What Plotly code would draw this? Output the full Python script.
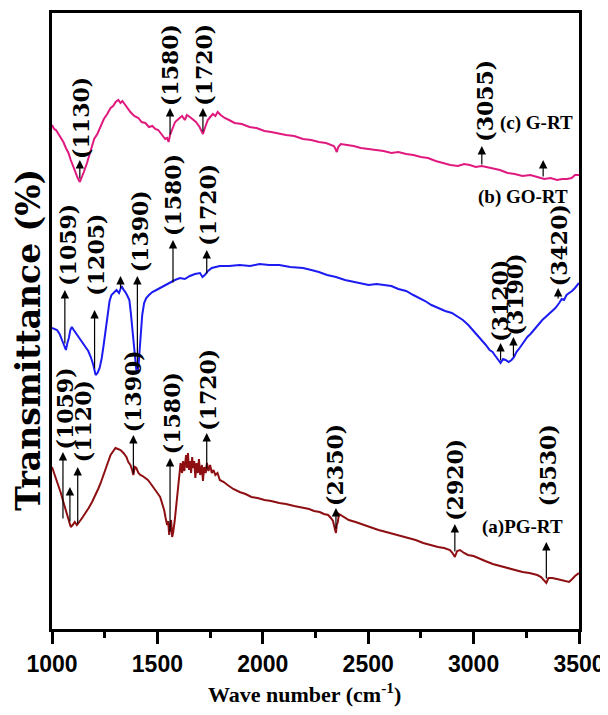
import plotly.graph_objects as go

# ---------------- data (wavenumber in cm^-1, transmittance in arbitrary units) ----------------
g_wn = [1000, 1010, 1019, 1030, 1042, 1054, 1066, 1078, 1089, 1101, 1113, 1122, 1132, 1141, 1151,
        1166, 1184, 1200, 1215, 1231, 1246, 1262, 1278, 1290, 1302, 1315, 1325, 1334, 1344, 1358,
        1372, 1390, 1410, 1425, 1443, 1460, 1476, 1490, 1504, 1515, 1527, 1537, 1546, 1553, 1560,
        1572, 1584, 1600, 1617, 1630, 1640, 1654, 1668, 1683, 1700, 1710, 1716, 1727, 1739, 1751,
        1763, 1775, 1786, 1800, 1819, 1840, 1866, 1900, 1937, 1970, 2008, 2040, 2078, 2110, 2149,
        2191, 2230, 2266, 2300, 2337, 2345, 2351, 2358, 2370, 2400, 2431, 2465, 2502, 2540, 2573,
        2610, 2643, 2680, 2714, 2750, 2784, 2820, 2855, 2890, 2926, 2955, 2982, 3010, 3039, 3065,
        3091, 3125, 3161, 3195, 3232, 3270, 3302, 3335, 3365, 3396, 3420, 3443, 3465, 3481, 3500]
g_t = [508, 504, 503, 499, 496, 491, 485, 480, 473, 466, 461, 455, 451, 455, 461,
       470, 483, 494, 499, 506, 514, 519, 525, 527, 531, 533, 530, 532, 529, 524,
       521, 517, 515, 511, 510, 506, 507, 504, 503, 500, 497, 494, 495, 491, 498,
       504, 511, 514, 517, 513, 518, 516, 514, 511, 506, 501, 499, 506, 513, 516,
       519, 517, 521, 518, 515, 513, 510, 509, 506, 505, 502, 501, 499, 498, 497,
       494, 493, 491, 490, 487, 484, 481, 486, 489, 488, 487, 485, 484, 483, 482,
       480, 481, 479, 478, 476, 475, 472, 470, 468, 467, 469, 468, 466, 467, 466,
       465, 463, 460, 459, 457, 458, 456, 454, 455, 453, 454, 454, 455, 458, 458]

go_wn = [1000, 1012, 1024, 1036, 1047, 1057, 1066, 1073, 1080, 1087, 1094, 1103, 1113, 1125, 1137,
         1148, 1160, 1172, 1184, 1196, 1207, 1216, 1226, 1236, 1245, 1255, 1264, 1273, 1282, 1294,
         1306, 1318, 1330, 1340, 1348, 1358, 1367, 1374, 1381, 1388, 1395, 1400, 1405, 1410, 1414,
         1421, 1428, 1437, 1447, 1460, 1476, 1495, 1513, 1537, 1560, 1583, 1607, 1630, 1654, 1678,
         1702, 1714, 1725, 1740, 1758, 1777, 1796, 1840, 1890, 1940, 1984, 2030, 2078, 2130, 2191,
         2230, 2266, 2305, 2347, 2390, 2431, 2465, 2502, 2540, 2573, 2610, 2643, 2680, 2714, 2745,
         2770, 2800, 2831, 2865, 2897, 2925, 2949, 2975, 2996, 3018, 3039, 3058, 3076, 3090, 3100,
         3114, 3128, 3140, 3152, 3166, 3180, 3192, 3203, 3215, 3227, 3241, 3255, 3270, 3288, 3306,
         3326, 3346, 3368, 3388, 3406, 3418, 3429, 3441, 3453, 3467, 3481, 3500]
go_t = [305, 304, 303, 299, 293, 287, 283, 290, 295, 303, 306, 303, 300, 297, 293,
        290, 286, 282, 276, 268, 258, 260, 265, 275, 288, 305, 321, 332, 338, 341,
        343, 340, 347, 343, 341, 337, 333, 320, 303, 285, 268, 263, 261, 266, 278,
        300, 318, 330, 335, 338, 341, 343, 345, 348, 351, 353, 355, 354, 357, 359,
        360, 356, 358, 362, 365, 366, 367, 367, 368, 367, 369, 368, 368, 366, 365,
        363, 361, 358, 356, 353, 351, 350, 348, 349, 348, 347, 344, 342, 338, 335,
        332, 328, 325, 322, 320, 316, 313, 308, 303, 298, 293, 288, 283, 281, 278,
        274, 270, 274, 273, 271, 273, 276, 281, 284, 288, 292, 296, 299, 303, 308,
        313, 317, 321, 325, 330, 334, 333, 338, 340, 342, 345, 350]

pg_wn = [1000, 1010, 1019, 1030, 1042, 1054, 1066, 1078, 1089, 1098, 1108, 1118, 1127, 1136, 1146,
         1160, 1174, 1190, 1207, 1219, 1231, 1242, 1254, 1266, 1278, 1290, 1301, 1313, 1325, 1339,
         1353, 1362, 1372, 1380, 1386, 1393, 1400, 1410, 1419, 1430, 1443, 1455, 1466, 1478, 1490,
         1500, 1513, 1522, 1532, 1539, 1546, 1551, 1556, 1560, 1565, 1570, 1575, 1582, 1589, 1596,
         1603, 1610, 1617, 1622, 1628, 1636, 1641, 1645, 1650, 1654, 1660, 1665, 1669, 1675, 1680,
         1686, 1692, 1697, 1703, 1711, 1716, 1722, 1729, 1735, 1742, 1750, 1758, 1766, 1775, 1785,
         1796, 1815, 1833, 1860, 1890, 1918, 1946, 1975, 2008, 2040, 2078, 2110, 2149, 2191, 2220,
         2243, 2270, 2290, 2310, 2323, 2333, 2342, 2347, 2351, 2356, 2361, 2385, 2408, 2440, 2478,
         2510, 2549, 2585, 2620, 2655, 2690, 2725, 2761, 2795, 2831, 2860, 2888, 2900, 2911, 2922,
         2935, 2955, 2973, 3000, 3020, 3055, 3091, 3125, 3161, 3195, 3232, 3265, 3302, 3320, 3335,
         3345, 3355, 3373, 3395, 3420, 3440, 3453, 3468, 3481, 3500]
pg_t = [166, 160, 153, 146, 140, 131, 123, 115, 106, 108, 111, 108, 110, 113, 116,
        120, 125, 131, 138, 144, 150, 156, 163, 171, 178, 182, 185, 184, 183, 180,
        176, 171, 168, 163, 158, 166, 165, 160, 158, 157, 155, 153, 150, 146, 143,
        140, 136, 130, 123, 115, 108, 112, 98, 106, 113, 96, 101, 112, 128, 142,
        155, 170, 160, 172, 162, 178, 165, 180, 163, 172, 160, 176, 165, 172, 155,
        170, 160, 174, 158, 168, 152, 166, 160, 170, 162, 168, 160, 163, 158, 160,
        153, 151, 148, 144, 141, 139, 136, 135, 133, 132, 130, 129, 127, 125, 124,
        122, 121, 119, 118, 115, 112, 104, 100, 108, 111, 119, 116, 113, 111, 108,
        106, 103, 101, 99, 97, 95, 93, 90, 88, 86, 85, 83, 80, 76, 82,
        83, 80, 78, 77, 75, 72, 69, 67, 65, 63, 61, 60, 58, 56, 53,
        50, 55, 55, 54, 53, 52, 51, 54, 57, 60]

# peak markers: arrow x, label text, arrow tail (on curve), arrow head, label x, label bottom
pk_wn = [1132, 1560, 1716, 3039, 3330,
         1061, 1202, 1325, 1405, 1574, 1734, 3128, 3189, 3401,
         1052, 1085, 1122, 1386, 1560, 1734, 2347, 2911, 3345]
pk_text = ["(1130)", "(1580)", "(1720)", "(3055)", "",
           "(1059)", "(1205)", "", "(1390)", "(1580)", "(1720)", "(3120)", "(3190)", "(3420)",
           "(1059)", "", "(1120)", "(1390)", "(1580)", "(1720)", "(2350)", "(2920)", "(3530)"]
pk_tail = [453, 497, 500, 467, 455,
           288, 263, 343, 263, 349, 358, 271, 275, 333,
           113, 110, 108, 158, 100, 163, 103, 80, 53]
pk_head = [473, 525, 525, 487, 473,
           343, 323, 357, 357, 393, 383, 290, 296, 345,
           181, 146, 166, 198, 175, 200, 125, 109, 91]
pk_text_wn = [1137, 1560, 1720, 3053, 3330,
              1075, 1207, 1325, 1419, 1574, 1739, 3124, 3194, 3406,
              1064, 1085, 1148, 1386, 1570, 1739, 2342, 2911, 3354]
pk_text_y = [473, 526, 526, 490, 0,
             346, 336, 0, 360, 396, 386, 290, 296, 346,
             183, 0, 170, 200, 178, 201, 126, 111, 126]

series_names = ["(c) G-RT", "(b) GO-RT", "(a)PG-RT"]
series_label_wn = [3297, 3236, 3232]
series_label_t = [510, 436, 106]

x_ticks = [1000, 1500, 2000, 2500, 3000, 3500]

# ---------------- figure ----------------
fig = go.Figure()
for wn, t, col in [(pg_wn, pg_t, "#8e0f12"), (go_wn, go_t, "#1c1cf2"), (g_wn, g_t, "#e0197f")]:
    fig.add_trace(go.Scatter(x=wn, y=t, mode="lines", line=dict(color=col, width=2),
                             showlegend=False, hoverinfo="skip"))

ann = []
lab_font = dict(family="DejaVu Serif", size=22, color="black", weight="bold")
for i in range(len(pk_wn)):
    ann.append(dict(x=pk_wn[i], y=pk_head[i], ax=pk_wn[i], ay=pk_tail[i],
                    xref="x", yref="y", axref="x", ayref="y", text="",
                    showarrow=True, arrowhead=2, arrowsize=1.4, arrowwidth=1.2,
                    arrowcolor="black"))
    if pk_text[i]:
        ann.append(dict(x=pk_text_wn[i], y=pk_text_y[i], xref="x", yref="y", text=pk_text[i],
                        textangle=-90, xanchor="center", yanchor="bottom", showarrow=False,
                        font=lab_font, borderpad=0))

for name, x, y in zip(series_names, series_label_wn, series_label_t):
    ann.append(dict(x=x, y=y, xref="x", yref="y", text=name, showarrow=False,
                    xanchor="center", yanchor="middle",
                    font=dict(family="Liberation Serif", size=19, color="black", weight="bold")))

ann.append(dict(x=0.48, y=-0.128, xref="paper", yref="paper",
                text="Wave number (cm<sup>-1</sup>)", showarrow=False,
                xanchor="center", yanchor="bottom", borderpad=0,
                font=dict(family="Liberation Serif", size=22, color="black", weight="bold")))
ann.append(dict(x=-0.045, y=0.47, xref="paper", yref="paper",
                text="Transmittance (%)", textangle=-90, showarrow=False,
                xanchor="center", yanchor="middle", borderpad=0,
                font=dict(family="DejaVu Serif", size=33, color="black", weight="bold")))

# the page body adds an 8 px offset, so the figure is 8 px smaller and margins shifted
fig.update_layout(
    width=600, height=699,
    margin=dict(l=44, r=29, t=5, b=78),
    paper_bgcolor="white", plot_bgcolor="white",
    annotations=ann,
    xaxis=dict(range=[1000, 3500], tickvals=x_ticks, ticktext=[str(v) for v in x_ticks],
               showline=True, mirror=True, linecolor="black", linewidth=3,
               ticks="outside", ticklen=12, tickwidth=3, tickcolor="black",
               minor=dict(dtick=250, tick0=1000, ticks="outside", ticklen=6, tickwidth=3,
                          tickcolor="black"),
               tickfont=dict(family="Liberation Sans", size=23, color="black", weight="bold"),
               ticklabelstandoff=0,
               showgrid=False, zeroline=False, automargin=False),
    yaxis=dict(range=[4, 620], showline=True, mirror=True, linecolor="black", linewidth=3,
               showticklabels=False, ticks="", showgrid=False, zeroline=False,
               automargin=False),
)

fig.write_html("out.html")
